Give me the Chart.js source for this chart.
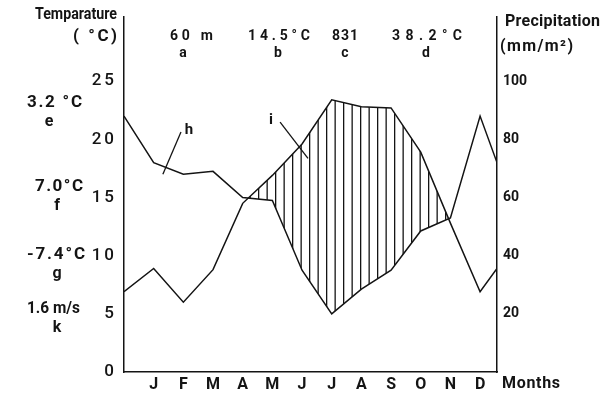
<!DOCTYPE html>
<html>
<head>
<meta charset="utf-8">
<script src="https://cdn.jsdelivr.net/npm/chart.js@4/dist/chart.umd.min.js"></script>
<style>
  html, body { margin: 0; padding: 0; background: #fff; }
  #c { display: block; }
</style>
</head>
<body>
<canvas id="c" width="604" height="397"></canvas>
<script>
// ---- data ----
const MONTHS = ['J', 'F', 'M', 'A', 'M', 'J', 'J', 'A', 'S', 'O', 'N', 'D'];
const TEMPERATURE = [8.9, 6.0, 8.8, 14.5, 16.9, 19.6, 23.4, 22.8, 22.7, 18.9, 12.8, 6.9]; // °C
const PRECIPITATION = [72, 68, 69, 60, 59, 35, 20, 28.5, 35, 48.5, 53, 88];         // mm/m²
const TEMP_TICKS = [0, 5, 10, 15, 20, 25];
const PRECIP_TICKS = [20, 40, 60, 80, 100];
const STATION_VALUES = ['60 m', '14.5°C', '831', '38.2°C'];
const STATION_KEYS = ['a', 'b', 'c', 'd'];
const SIDE_VALUES = ['3.2 °C', '7.0°C', '-7.4°C', '1.6 m/s'];
const SIDE_KEYS = ['e', 'f', 'g', 'k'];

// ---- layout constants ----
const X_MAX = 12.57;     // right axis sits a little before next January
const Y_MAX = 30.5;
const FONT = 'Roboto, "Liberation Sans", sans-serif';
const INK = '#141414';

// wrap the year: previous December at the left axis, next January at the right axis
function wrapYear(values) {
  const pts = [{ x: 0, y: values[values.length - 1] }];
  values.forEach((v, i) => pts.push({ x: i + 1, y: v }));
  pts.push({ x: X_MAX, y: values[0] });
  return pts;
}

// vertical hatching pattern
const pc = document.createElement('canvas');
pc.width = 17; pc.height = 4;
const pctx = pc.getContext('2d');
pctx.fillStyle = INK;
pctx.fillRect(3, 0, 1.3, 4);
pctx.fillRect(11.5, 0, 1.3, 4);
const hatch = pctx.createPattern(pc, 'repeat');

// text fitted to a given width (compressed or letter-spaced like the lettering of the original)
function drawText(ctx, s, x, y, size, width, align) {
  ctx.save();
  ctx.font = 'bold ' + size + 'px ' + FONT;
  ctx.letterSpacing = '0px';
  ctx.textAlign = 'left';
  ctx.textBaseline = 'middle';
  const natural = ctx.measureText(s).width;
  const target = width || natural;
  let sx = x;
  if (align === 'center') sx = x - target / 2;
  else if (align === 'right') sx = x - target;
  if (natural > target) {
    ctx.translate(sx, y);
    ctx.scale(target / natural, 1);
    ctx.fillText(s, 0, 0);
  } else {
    const sp = s.length > 1 ? (target - natural) / (s.length - 1) : 0;
    ctx.letterSpacing = sp + 'px';
    ctx.fillText(s, sx, y);
  }
  ctx.restore();
}

const spacingPlugin = {
  id: 'spacing',
  beforeDraw(chart) { chart.ctx.letterSpacing = '3px'; },
  afterDatasetsDraw(chart) { chart.ctx.letterSpacing = '0px'; }
};

const annotPlugin = {
  id: 'annot',
  afterDraw(chart) {
    const ctx = chart.ctx;
    const xs = chart.scales.x, ys = chart.scales.y;
    ctx.save();
    ctx.letterSpacing = '0px';
    ctx.fillStyle = INK;
    ctx.strokeStyle = INK;
    ctx.lineWidth = 1.3;

    // axis titles
    drawText(ctx, 'Temparature', 76, 15, 17, 82, 'center');
    drawText(ctx, '( °C)', 117, 37, 17, 44, 'right');
    drawText(ctx, 'Precipitation', 505, 22, 16, 95, 'left');
    drawText(ctx, '(mm/m²)', 500, 47, 16, 73, 'left');
    drawText(ctx, 'Months', 502, 384, 16, 58, 'left');

    // station info along the top
    const topX = [191.5, 279, 345, 427];
    const topW = [43, 62, 26, 70];
    const keyX = [183, 278, 345, 426];
    STATION_VALUES.forEach((s, i) => {
      drawText(ctx, s, topX[i], 36, 14, topW[i], 'center');
      drawText(ctx, STATION_KEYS[i], keyX[i], 53, 14, 0, 'center');
    });

    // side info on the left
    const sideY = [103, 187, 255, 309];
    const sideX = [54.5, 59, 56, 53.5];
    const sideW = [55, 48, 58, 53];
    SIDE_VALUES.forEach((s, i) => {
      drawText(ctx, s, sideX[i], sideY[i], 17, sideW[i], 'center');
      drawText(ctx, SIDE_KEYS[i], i === 0 ? 49 : 57, sideY[i] + 19, 16, 0, 'center');
    });

    // leader lines (anchored in data space)
    const P = (x, y) => [xs.getPixelForValue(x), ys.getPixelForValue(y)];
    const line = (a, b) => { ctx.beginPath(); ctx.moveTo(a[0], a[1]); ctx.lineTo(b[0], b[1]); ctx.stroke(); };
    line(P(1.31, 17.0), P(1.92, 20.64));
    let t = P(2.19, 20.8);
    drawText(ctx, 'h', t[0], t[1], 15, 0, 'center');
    line(P(5.26, 21.48), P(6.20, 18.37));
    t = P(4.95, 21.65);
    drawText(ctx, 'i', t[0], t[1], 15, 0, 'center');

    ctx.restore();
  }
};

new Chart(document.getElementById('c'), {
  type: 'line',
  data: {
    datasets: [
      {
        label: 'Precipitation',
        data: wrapYear(PRECIPITATION),
        yAxisID: 'y2',
        borderColor: INK,
        borderWidth: 1.5,
        pointRadius: 0,
        tension: 0,
        fill: false
      },
      {
        label: 'Temperature',
        data: wrapYear(TEMPERATURE),
        yAxisID: 'y',
        borderColor: INK,
        borderWidth: 1.5,
        pointRadius: 0,
        tension: 0,
        fill: { target: 0, above: hatch, below: 'rgba(0,0,0,0)' }
      }
    ]
  },
  options: {
    responsive: false,
    animation: false,
    events: [],
    layout: { padding: { top: 10, left: 0, right: 0, bottom: 0 } },
    plugins: { legend: { display: false }, tooltip: { enabled: false } },
    scales: {
      x: {
        type: 'linear',
        min: 0,
        max: X_MAX,
        grid: { display: false, drawTicks: false },
        border: { display: true, color: INK, width: 1.5 },
        afterBuildTicks: s => { s.ticks = MONTHS.map((m, i) => ({ value: i + 1 })); },
        afterFit: s => { s.height = 25; },
        ticks: {
          autoSkip: false, maxRotation: 0, padding: 3, color: INK, z: 1,
          font: { family: FONT, size: 16, weight: 'bold' },
          callback: v => MONTHS[v - 1]
        }
      },
      y: {
        position: 'left',
        min: 0,
        max: Y_MAX,
        grid: { display: false, drawTicks: false },
        border: { display: true, color: INK, width: 1.5 },
        afterBuildTicks: s => { s.ticks = TEMP_TICKS.map(v => ({ value: v })); },
        afterFit: s => { s.width = 124; },
        ticks: {
          padding: 7, color: INK,
          font: { family: FONT, size: 17, weight: '500' },
          callback: v => String(v)
        }
      },
      y2: {
        position: 'right',
        min: 0,
        max: Y_MAX * 4,
        grid: { display: false, drawTicks: false },
        border: { display: true, color: INK, width: 1.5 },
        afterBuildTicks: s => { s.ticks = PRECIP_TICKS.map(v => ({ value: v })); },
        afterFit: s => { s.width = 107; },
        ticks: {
          padding: 6, color: INK, z: 1,
          font: { family: FONT, size: 14, weight: 'bold' },
          callback: v => String(v)
        }
      }
    }
  },
  plugins: [spacingPlugin, annotPlugin]
});
</script>
</body>
</html>
